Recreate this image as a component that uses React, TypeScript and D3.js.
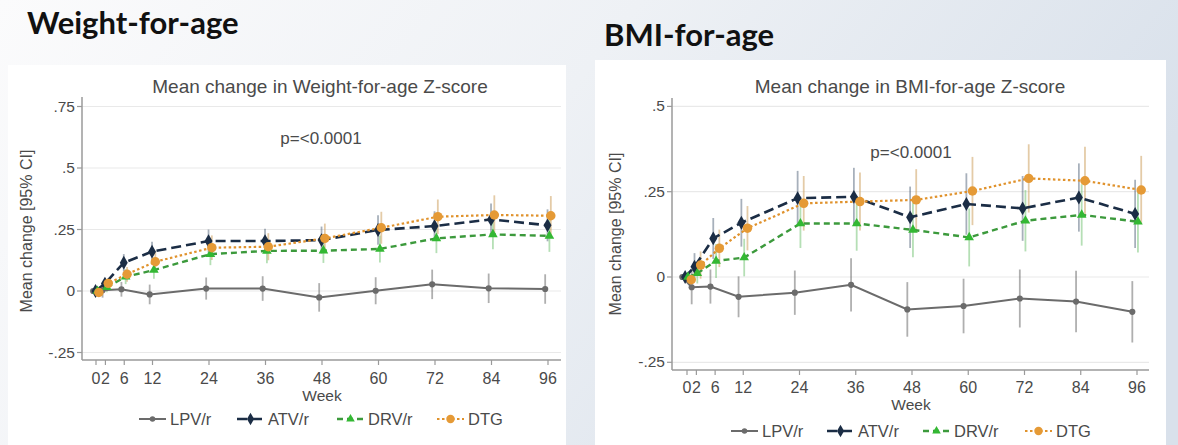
import React from 'react';
import * as d3 from 'd3';

// ---------- data ----------
const weeks = [0, 2, 6, 12, 24, 36, 48, 60, 72, 84, 96];
const xTickValues = [0, 2, 6, 12, 24, 36, 48, 60, 72, 84, 96];
const seriesNames = ['LPV/r', 'ATV/r', 'DRV/r', 'DTG'];

// Weight-for-age mean change and 95% CI half widths
const wfaLPV = [0, 0.003, 0.007, -0.014, 0.01, 0.01, -0.026, 0.001, 0.027, 0.011, 0.008];
const wfaATV = [0, 0.03, 0.115, 0.16, 0.203, 0.203, 0.207, 0.248, 0.264, 0.291, 0.267];
const wfaDRV = [0, 0.015, 0.058, 0.085, 0.15, 0.163, 0.164, 0.171, 0.214, 0.23, 0.224];
const wfaDTG = [-0.006, 0.031, 0.068, 0.119, 0.176, 0.18, 0.214, 0.257, 0.302, 0.309, 0.306];
const wfaLPVci = [0, 0.03, 0.03, 0.04, 0.045, 0.05, 0.058, 0.055, 0.06, 0.06, 0.06];
const wfaATVci = [0, 0.02, 0.035, 0.04, 0.047, 0.05, 0.055, 0.06, 0.06, 0.065, 0.065];
const wfaDRVci = [0, 0.02, 0.03, 0.035, 0.045, 0.05, 0.05, 0.055, 0.06, 0.06, 0.065];
const wfaDTGci = [0, 0.02, 0.03, 0.04, 0.05, 0.055, 0.06, 0.065, 0.07, 0.08, 0.08];

// BMI-for-age mean change and 95% CI half widths
const bfaLPV = [0, -0.03, -0.028, -0.058, -0.046, -0.023, -0.095, -0.085, -0.063, -0.072, -0.102];
const bfaATV = [0, 0.03, 0.113, 0.159, 0.231, 0.235, 0.175, 0.214, 0.201, 0.233, 0.185];
const bfaDRV = [0, 0.011, 0.047, 0.057, 0.157, 0.157, 0.138, 0.116, 0.165, 0.182, 0.162];
const bfaDTG = [-0.008, 0.035, 0.084, 0.143, 0.216, 0.221, 0.226, 0.252, 0.289, 0.282, 0.255];
const bfaLPVci = [0, 0.05, 0.05, 0.06, 0.065, 0.078, 0.08, 0.08, 0.085, 0.09, 0.09];
const bfaATVci = [0, 0.04, 0.06, 0.07, 0.08, 0.085, 0.09, 0.09, 0.095, 0.1, 0.1];
const bfaDRVci = [0, 0.03, 0.05, 0.055, 0.072, 0.08, 0.08, 0.085, 0.09, 0.09, 0.09];
const bfaDTGci = [0, 0.04, 0.055, 0.065, 0.08, 0.085, 0.09, 0.1, 0.1, 0.1, 0.1];

const wfaYTicks = [-0.25, 0, 0.25, 0.5, 0.75];
const wfaYTickLabels = ['-.25', '0', '.25', '.5', '.75'];
const bfaYTicks = [-0.25, 0, 0.25, 0.5];
const bfaYTickLabels = ['-.25', '0', '.25', '.5'];

// ---------- styles ----------
const STYLES = [
  { color: '#6b6b6b', ci: 'rgba(110,110,110,0.55)', dash: '', width: 2, symbol: d3.symbolCircle, size: 30 },
  { color: '#1b2d45', ci: 'rgba(60,80,105,0.45)', dash: '10,5', width: 2.6, symbol: d3.symbolDiamond, size: 55 },
  { color: '#3c9a3c', ci: 'rgba(90,185,90,0.45)', dash: '6,4', width: 2.4, symbol: d3.symbolTriangle, size: 40, fill: '#33b833' },
  { color: '#e0922c', ci: 'rgba(205,160,95,0.55)', dash: '2.5,2.5', width: 2.2, symbol: d3.symbolCircle, size: 70, fill: '#e59a36' },
];

const FONT = "'Liberation Sans', Arial, sans-serif";
const TXT = '#4a4a4a';
const AXIS = '#9a9a9a';

type Layout = {
  xr: [number, number];
  axisX: [number, number];
  yDomain: [number, number];
  yr: [number, number];
  axisY: [number, number];
  subtitle: [number, number];
  p: [number, number];
  week: [number, number];
  tickLabelY: number;
  yLabelRight: number;
  yTitle: [number, number];
  legendY: number;
  legendX: number[];
  dodge: number[];
};

function Chart(props: {
  subtitle: string;
  values: number[][];
  cis: number[][];
  yTicks: number[];
  yTickLabels: string[];
  L: Layout;
}) {
  const { subtitle, values, cis, yTicks, yTickLabels, L } = props;
  const x = d3.scaleLinear().domain([0, 96]).range(L.xr);
  const y = d3.scaleLinear().domain(L.yDomain).range(L.yr);
  const line = d3.line<[number, number]>().x((d) => d[0]).y((d) => d[1]);

  return (
    <g fontFamily={FONT}>
      {/* gridlines */}
      {yTicks.map((t) => (
        <line key={'g' + t} x1={L.axisX[0]} x2={L.axisX[1]} y1={y(t)} y2={y(t)} stroke="#e9e9e9" strokeWidth={1.2} />
      ))}
      {/* axes */}
      <line x1={L.axisX[0]} x2={L.axisX[0]} y1={L.axisY[0]} y2={L.axisY[1]} stroke={AXIS} strokeWidth={1.5} />
      <line x1={L.axisX[0]} x2={L.axisX[1]} y1={L.axisY[1]} y2={L.axisY[1]} stroke={AXIS} strokeWidth={1.5} />
      {yTicks.map((t, i) => (
        <g key={'yt' + t}>
          <line x1={L.axisX[0] - 5} x2={L.axisX[0]} y1={y(t)} y2={y(t)} stroke={AXIS} strokeWidth={1.2} />
          <text x={L.yLabelRight} y={y(t) + 5} textAnchor="end" fontSize={15.5} fill={TXT}>
            {yTickLabels[i]}
          </text>
        </g>
      ))}
      {xTickValues.map((t) => (
        <g key={'xt' + t}>
          <line x1={x(t)} x2={x(t)} y1={L.axisY[1]} y2={L.axisY[1] + 5} stroke={AXIS} strokeWidth={1.2} />
          <text x={x(t)} y={L.tickLabelY} textAnchor="middle" fontSize={16} fill={TXT}>
            {t}
          </text>
        </g>
      ))}
      <text x={L.week[0]} y={L.week[1]} textAnchor="middle" fontSize={15.5} fill={TXT}>
        Week
      </text>
      <text
        transform={`translate(${L.yTitle[0]},${L.yTitle[1]}) rotate(-90)`}
        textAnchor="middle"
        fontSize={16}
        fill={TXT}
      >
        Mean change [95% CI]
      </text>
      <text x={L.subtitle[0]} y={L.subtitle[1]} textAnchor="middle" fontSize={19} fill={TXT}>
        {subtitle}
      </text>
      <text x={L.p[0]} y={L.p[1]} textAnchor="middle" fontSize={17} fill={TXT}>
        p=&lt;0.0001
      </text>

      {/* CI bars */}
      {values.map((vals, si) =>
        vals.map((v, i) => {
          const cx = x(weeks[i] + L.dodge[si]);
          return (
            <line
              key={'ci' + si + '-' + i}
              x1={cx}
              x2={cx}
              y1={y(v - cis[si][i])}
              y2={y(v + cis[si][i])}
              stroke={STYLES[si].ci}
              strokeWidth={1.8}
            />
          );
        })
      )}
      {/* lines */}
      {values.map((vals, si) => {
        const pts: [number, number][] = vals.map((v, i) => [x(weeks[i] + L.dodge[si]), y(v)]);
        return (
          <path
            key={'ln' + si}
            d={line(pts) || ''}
            fill="none"
            stroke={STYLES[si].color}
            strokeWidth={STYLES[si].width}
            strokeDasharray={STYLES[si].dash}
          />
        );
      })}
      {/* markers */}
      {values.map((vals, si) =>
        vals.map((v, i) => (
          <path
            key={'mk' + si + '-' + i}
            transform={`translate(${x(weeks[i] + L.dodge[si])},${y(v)})`}
            d={d3.symbol().type(STYLES[si].symbol).size(STYLES[si].size)() || ''}
            fill={(STYLES[si] as any).fill || STYLES[si].color}
          />
        ))
      )}

      {/* legend */}
      {seriesNames.map((name, si) => {
        const lx = L.legendX[si];
        const ly = L.legendY;
        return (
          <g key={'lg' + si}>
            <line x1={lx} x2={lx + 27} y1={ly} y2={ly} stroke={STYLES[si].color} strokeWidth={STYLES[si].width} strokeDasharray={STYLES[si].dash} />
            <path
              transform={`translate(${lx + 13.5},${ly})`}
              d={d3.symbol().type(STYLES[si].symbol).size(STYLES[si].size * 0.8)() || ''}
              fill={(STYLES[si] as any).fill || STYLES[si].color}
            />
            <text x={lx + 31} y={ly + 5.5} fontSize={16.5} fill={TXT}>
              {name}
            </text>
          </g>
        );
      })}
    </g>
  );
}

const leftLayout: Layout = {
  xr: [96, 548],
  axisX: [82, 561],
  yDomain: [-0.25, 0.75],
  yr: [352.5, 106.5],
  axisY: [97, 360],
  subtitle: [320, 93],
  p: [321, 144],
  week: [322, 401],
  tickLabelY: 384,
  yLabelRight: 75,
  yTitle: [32, 231],
  legendY: 419,
  legendX: [139, 237, 337, 437],
  dodge: [-0.6, -0.1, 0.3, 0.6],
};

const rightLayout: Layout = {
  xr: [687, 1137],
  axisX: [672, 1149],
  yDomain: [-0.25, 0.5],
  yr: [362.3, 106.4],
  axisY: [98, 370],
  subtitle: [910, 93],
  p: [911, 158],
  week: [911, 410],
  tickLabelY: 393,
  yLabelRight: 665,
  yTitle: [621, 234],
  legendY: 431,
  legendX: [731, 827, 923, 1025],
  dodge: [-1, -0.4, 0.2, 0.9],
};

export default function App() {
  return (
    <svg
      width={1178}
      height={445}
      viewBox="0 0 1178 445"
      style={{ position: 'absolute', left: 0, top: 0, display: 'block' }}
    >
      <defs>
        <linearGradient id="bg" x1="0" y1="0" x2="1" y2="0.3">
          <stop offset="0" stopColor="#fbfbfc" />
          <stop offset="0.5" stopColor="#eef1f5" />
          <stop offset="1" stopColor="#d9e1eb" />
        </linearGradient>
      </defs>
      <rect x={0} y={0} width={1178} height={445} fill="url(#bg)" />
      <rect x={8} y={65} width={558} height={380} fill="#ffffff" />
      <rect x={595} y={60} width={571} height={385} fill="#ffffff" />
      <text x={27} y={34} fontFamily="Lato, 'Open Sans', sans-serif" fontWeight={700} fontSize={31} fill="#111">
        Weight-for-age
      </text>
      <text x={604} y={46} fontFamily="Lato, 'Open Sans', sans-serif" fontWeight={700} fontSize={31} fill="#111">
        BMI-for-age
      </text>
      <Chart
        subtitle="Mean change in Weight-for-age Z-score"
        values={[wfaLPV, wfaATV, wfaDRV, wfaDTG]}
        cis={[wfaLPVci, wfaATVci, wfaDRVci, wfaDTGci]}
        yTicks={wfaYTicks}
        yTickLabels={wfaYTickLabels}
        L={leftLayout}
      />
      <Chart
        subtitle="Mean change in BMI-for-age Z-score"
        values={[bfaLPV, bfaATV, bfaDRV, bfaDTG]}
        cis={[bfaLPVci, bfaATVci, bfaDRVci, bfaDTGci]}
        yTicks={bfaYTicks}
        yTickLabels={bfaYTickLabels}
        L={rightLayout}
      />
    </svg>
  );
}
